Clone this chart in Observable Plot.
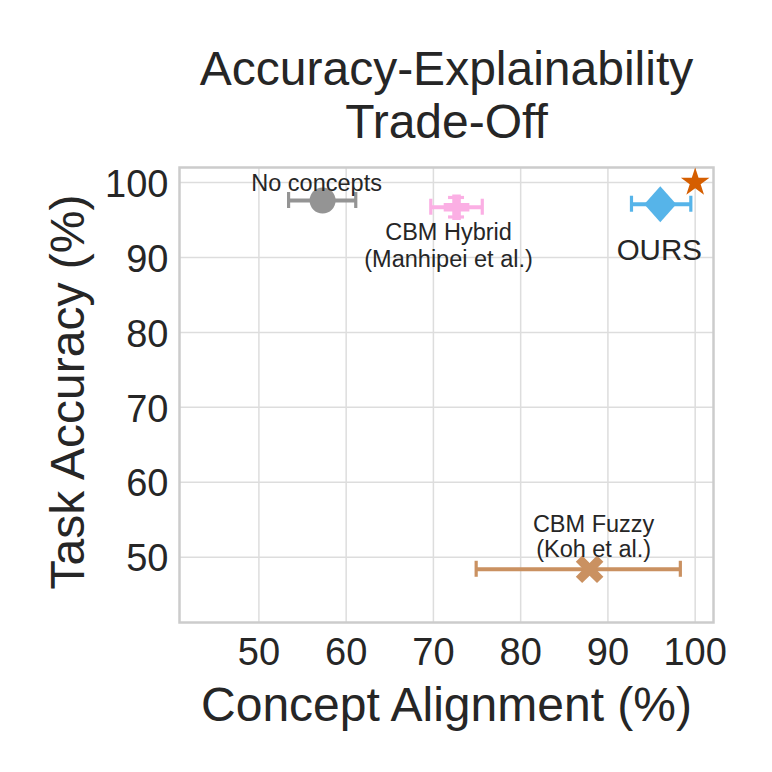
<!DOCTYPE html>
<html>
<head>
<meta charset="utf-8">
<script src="https://cdn.jsdelivr.net/npm/d3@7"></script>
<script src="https://cdn.jsdelivr.net/npm/@observablehq/plot@0.6"></script>
<style>
  html, body { margin: 0; padding: 0; background: #ffffff; }
  #chart { width: 772px; height: 772px; }
</style>
</head>
<body>
<div id="chart"></div>
<script>
// ---- data ----
const methods      = ["No concepts", "CBM Hybrid", "OURS", "CBM Fuzzy"];
const labels       = ["No concepts", "CBM Hybrid\n(Manhipei et al.)", "OURS", "CBM Fuzzy\n(Koh et al.)"];
const alignment    = [57.3, 72.65, 96.0, 87.9];   // x, Concept Alignment (%)
const alignLow     = [53.4, 69.7, 92.7, 74.9];    // x error bar lower end
const alignHigh    = [61.1, 75.6, 99.5, 98.3];    // x error bar upper end
const accuracy     = [97.6, 96.7, 97.1, 48.4];    // y, Task Accuracy (%)
const accuracyErr  = [0, 1.3, 0, 0];              // y error (half width)
const idealAlignment = [100];
const idealAccuracy  = [100];
const xTicks = [50, 60, 70, 80, 90, 100];
const yTicks = [50, 60, 70, 80, 90, 100];
const titleLines = ["Accuracy-Explainability", "Trade-Off"];
const xLabel = "Concept Alignment (%)";
const yLabel = "Task Accuracy (%)";

// ---- styles ----
const colors = {"No concepts": "#949494", "CBM Hybrid": "#fbafe4", "OURS": "#56b4e9", "CBM Fuzzy": "#ca9161"};
const idealColor = "#d55e00";
const ink = "#262626";

const rows = methods.map((m, i) => ({
  method: m, label: labels[i],
  x: alignment[i], lo: alignLow[i], hi: alignHigh[i],
  y: accuracy[i], ylo: accuracy[i] - accuracyErr[i], yhi: accuracy[i] + accuracyErr[i],
  hasYErr: accuracyErr[i] > 0
}));
const ideal = idealAlignment.map((x, i) => ({x, y: idealAccuracy[i]}));

// custom symbols
const diamondSym = {
  draw(ctx, size) {
    const r = Math.sqrt(size / Math.PI);
    const w = r, h = r * 1.12;
    ctx.moveTo(0, -h); ctx.lineTo(w, 0); ctx.lineTo(0, h); ctx.lineTo(-w, 0); ctx.closePath();
  }
};
const filledX = {
  draw(ctx, size) {
    const r = Math.sqrt(size / Math.PI);
    const a = r * 1.5, b = r * 0.45;
    const pts = [[b,a],[b,b],[a,b],[a,-b],[b,-b],[b,-a],[-b,-a],[-b,-b],[-a,-b],[-a,b],[-b,b],[-b,a]];
    const c = Math.SQRT1_2;
    pts.forEach(([px, py], k) => {
      const rx = (px - py) * c, ry = (px + py) * c;
      if (k === 0) ctx.moveTo(rx, ry); else ctx.lineTo(rx, ry);
    });
    ctx.closePath();
  }
};
const symbolOf = {"No concepts": "circle", "CBM Hybrid": "cross", "OURS": diamondSym, "CBM Fuzzy": filledX};
const radiusOf = {"No concepts": 13, "CBM Hybrid": 10.8, "OURS": 16, "CBM Fuzzy": 10};

const font = "'Liberation Sans', Arial, sans-serif";
const ebWidth = 4;
const cap = -8;

const markFor = (m) => rows.filter(d => d.method === m);
const txt = {fill: ink, fontFamily: font, textAnchor: "middle", lineAnchor: "middle"};

const marks = [
  Plot.gridX(xTicks, {stroke: "#dddddd", strokeOpacity: 1, strokeWidth: 1.5}),
  Plot.gridY(yTicks, {stroke: "#dddddd", strokeOpacity: 1, strokeWidth: 1.5}),
  Plot.frame({stroke: "#cccccc", strokeWidth: 2.5}),
  Plot.axisX(xTicks, {tickSize: 0, tickPadding: 15.5, fontSize: 38, label: null, color: ink}),
  Plot.axisY(yTicks, {tickSize: 0, tickPadding: 11, fontSize: 38, label: null, color: ink, dy: 2}),
  // x error bars
  Plot.ruleY(rows, {y: "y", x1: "lo", x2: "hi", stroke: d => colors[d.method], strokeWidth: ebWidth}),
  Plot.ruleX(rows, {x: "lo", y1: "y", y2: "y", insetTop: cap, insetBottom: cap, stroke: d => colors[d.method], strokeWidth: ebWidth * 0.8}),
  Plot.ruleX(rows, {x: "hi", y1: "y", y2: "y", insetTop: cap, insetBottom: cap, stroke: d => colors[d.method], strokeWidth: ebWidth * 0.8}),
  // y error bars
  Plot.ruleX(rows.filter(d => d.hasYErr), {x: "x", y1: "ylo", y2: "yhi", stroke: d => colors[d.method], strokeWidth: ebWidth}),
  Plot.ruleY(rows.filter(d => d.hasYErr), {y: "ylo", x1: "x", x2: "x", insetLeft: cap, insetRight: cap, stroke: d => colors[d.method], strokeWidth: ebWidth * 0.8}),
  Plot.ruleY(rows.filter(d => d.hasYErr), {y: "yhi", x1: "x", x2: "x", insetLeft: cap, insetRight: cap, stroke: d => colors[d.method], strokeWidth: ebWidth * 0.8}),
  // markers
  ...methods.map(m => Plot.dot(markFor(m), {x: "x", y: "y", symbol: () => symbolOf[m], r: radiusOf[m], fill: colors[m], stroke: "none"})),
  Plot.dot(ideal, {x: "x", y: "y", symbol: "star", r: 9, fill: idealColor, stroke: "none"}),
  // annotations
  Plot.text(markFor("No concepts"), {...txt, x: "x", y: "y", text: "label", dx: -6, dy: -17.5, fontSize: 23.5}),
  Plot.text(markFor("CBM Hybrid"), {...txt, x: "x", y: "y", text: "label", dx: -8, dy: 38, fontSize: 23.5, lineHeight: 1.12}),
  Plot.text(markFor("OURS"), {...txt, x: "x", y: "y", text: "label", dx: -1, dy: 46, fontSize: 29.5}),
  Plot.text(markFor("CBM Fuzzy"), {...txt, x: "x", y: "y", text: "label", dx: 4, dy: -33, fontSize: 23.5, lineHeight: 1.06}),
  // title and axis labels
  Plot.text([titleLines.join("\n")], {...txt, frameAnchor: "top", dy: -73, fontSize: 48, lineHeight: 1.11}),
  Plot.text([xLabel], {...txt, frameAnchor: "bottom", dy: 83, fontSize: 48}),
  Plot.text([yLabel], {...txt, frameAnchor: "left", dx: -111, dy: -3, rotate: -90, fontSize: 48})
];

const chart = Plot.plot({
  width: 772,
  height: 772,
  marginLeft: 179,
  marginRight: 59,
  marginTop: 167,
  marginBottom: 150,
  x: {domain: [40.9, 102.1], label: null},
  y: {domain: [41.3, 102], label: null},
  style: {fontFamily: font, color: ink, background: "#ffffff", overflow: "visible"},
  marks
});
document.getElementById("chart").appendChild(chart);
</script>
</body>
</html>
